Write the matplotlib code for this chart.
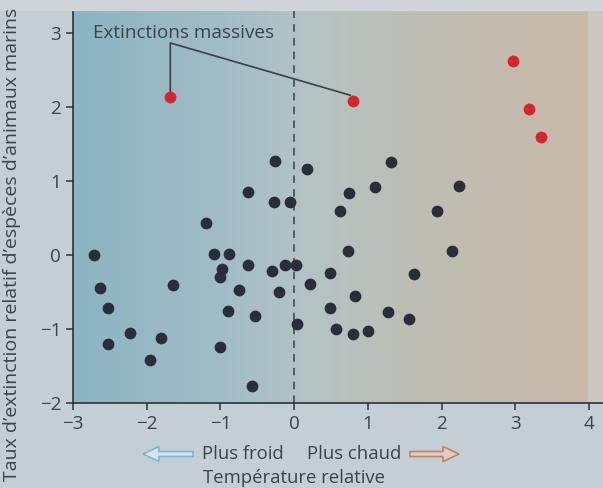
import numpy as np
import matplotlib
matplotlib.use("Agg")
import matplotlib.pyplot as plt
from matplotlib.colors import LinearSegmentedColormap
from matplotlib.patches import FancyArrow

plt.rcParams['font.family'] = ['Open Sans', 'DejaVu Sans']

# --- data ---
black_x = [-2.71, -2.64, -2.52, -2.52, -2.22, -1.95, -1.81, -1.65,
           -0.26, -0.63, -0.28, -0.05, -1.19, -1.09, -0.89, -0.98, -1.00,
           -0.63, -0.30, -0.13, 0.02, -0.75, -0.20, -0.90, -0.53, 0.04,
           -1.01, -0.57,
           0.18, 1.31, 0.74, 1.10, 2.23, 0.62, 1.94, 0.73, 2.14, 0.48,
           1.62, 0.21, 0.82, 0.48, 1.27, 1.56, 0.57, 0.80, 1.00]
black_y = [0.00, -0.45, -0.71, -1.20, -1.05, -1.41, -1.12, -0.40,
           1.27, 0.85, 0.72, 0.72, 0.44, 0.02, 0.02, -0.19, -0.30,
           -0.13, -0.21, -0.13, -0.13, -0.47, -0.50, -0.75, -0.82, -0.93,
           -1.24, -1.76,
           1.17, 1.26, 0.84, 0.92, 0.94, 0.60, 0.59, 0.06, 0.06, -0.24,
           -0.26, -0.39, -0.55, -0.72, -0.77, -0.86, -1.00, -1.06, -1.02]
red_x = [-1.68, 0.80, 2.97, 3.19, 3.35]
red_y = [2.13, 2.08, 2.62, 1.97, 1.60]

xticks = [-3, -2, -1, 0, 1, 2, 3, 4]
yticks = [-2, -1, 0, 1, 2, 3]
xlabels = ['\u22123', '\u22122', '\u22121', '0', '1', '2', '3', '4']
ylabels = ['\u22122', '\u22121', '0', '1', '2', '3']

W, H = 603, 488
TXT = '#3d424b'
fig = plt.figure(figsize=(W / 100, H / 100), dpi=100)
fig.patch.set_facecolor('#c3ced5')

# top light strip
fig.patches.append(plt.Rectangle((0, 1 - 11 / H), 1, 11 / H, transform=fig.transFigure,
                                 facecolor='#d0d4d9', edgecolor='none', zorder=0))

ax = fig.add_axes([73 / W, (H - 403.3) / H, (W - 73) / W, (403.3 - 10) / H])
ax.set_xlim(-3, 4.19)
ax.set_ylim(-2, 3.31)
ax.set_facecolor('#cbc6be')

cmap = LinearSegmentedColormap.from_list(
    'bg', [(0.0, '#8cb3c2'), (0.3, '#a2bdc7'), (0.45, '#b4c3c4'),
           (0.7, '#bfbdb2'), (1.0, '#c8baab')])
grad = np.linspace(0, 1, 256).reshape(1, -1)
ax.imshow(grad, extent=(-3, 3.98, -2, 3.31), aspect='auto', cmap=cmap, zorder=0)

ax.axvline(0, color='#3a3f48', lw=1.1, ls=(0, (5, 4)), zorder=1)

ax.scatter(black_x, black_y, s=72, color='#2a2e3b', zorder=3, linewidths=0)
ax.scatter(red_x, red_y, s=72, color='#d3262f', zorder=3, linewidths=0)

# annotation
ax.plot([red_x[0], red_x[0], 0.76], [red_y[0] + 0.08, 2.865, 2.16], color='#3a3f48', lw=1.2, zorder=2)
ax.text(-2.73, 3.0, 'Extinctions massives', fontsize=13.6, color=TXT, va='center', ha='left', zorder=4)

for s in ['top', 'right']:
    ax.spines[s].set_visible(False)
for s in ['left', 'bottom']:
    ax.spines[s].set_color('#2e323a')
    ax.spines[s].set_linewidth(1.2)
ax.spines['left'].set_bounds(-2, 3.31)

ax.set_xticks(xticks)
ax.set_xticklabels(xlabels)
ax.set_yticks(yticks)
ax.set_yticklabels(ylabels)
ax.tick_params(direction='out', length=5, width=1.1, color='#2e323a', labelcolor=TXT, labelsize=13.5)

# y label
fig.text(12 / W, 0.5, 'Taux d\u2019extinction relatif d\u2019esp\u00e8ces d\u2019animaux marins',
         rotation=90, ha='center', va='center', fontsize=14, color=TXT)

# x label texts
fig.text(202 / W, 1 - 454 / H, 'Plus froid', ha='left', va='center', fontsize=13.3, color=TXT)
fig.text(307 / W, 1 - 454 / H, 'Plus chaud', ha='left', va='center', fontsize=13.3, color=TXT)
fig.text(294 / W, 1 - 478 / H, 'Temp\u00e9rature relative', ha='center', va='center', fontsize=13.3, color=TXT)

# arrows (figure pixel coordinates -> fraction)
def arrow(x0, x1, y, fc, ec):
    dx = (x1 - x0) / W
    a = FancyArrow(x0 / W, 1 - y / H, dx, 0, width=5 / H, head_width=15 / H,
                   head_length=16 / W, length_includes_head=True,
                   transform=fig.transFigure, facecolor=fc, edgecolor=ec, lw=1.2)
    fig.patches.append(a)

arrow(193, 143, 454, '#d6e4ec', '#80b4cc')
arrow(410, 459, 454, '#e6cac4', '#b88668')

fig.savefig('out.png', dpi=100, facecolor=fig.get_facecolor())
